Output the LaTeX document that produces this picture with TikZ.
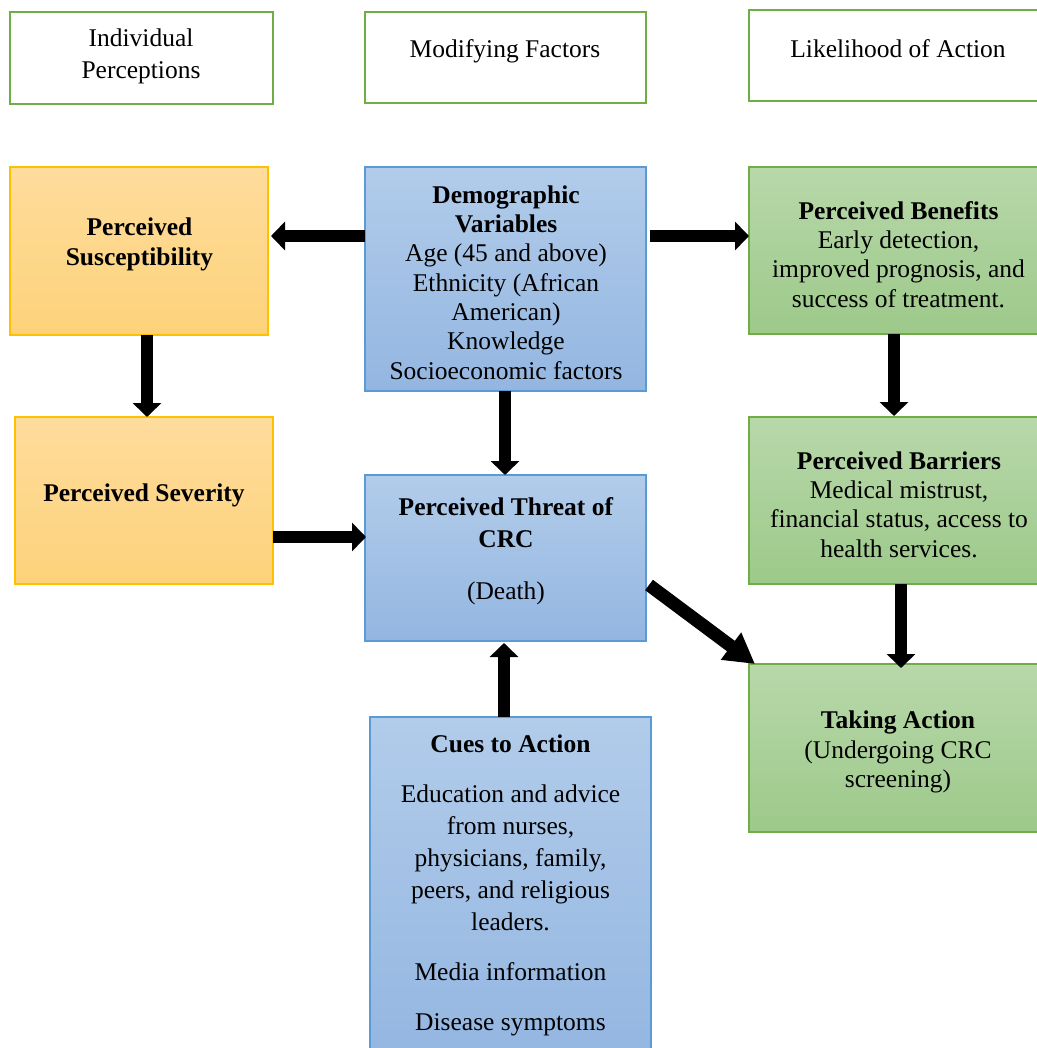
\documentclass[tikz,border=0pt]{standalone}
\usepackage{fontspec}
\setmainfont{Liberation Serif}
\usetikzlibrary{arrows.meta,calc}
\definecolor{orTop}{HTML}{FEDC9C}
\definecolor{orBot}{HTML}{FDD27A}
\definecolor{orLine}{HTML}{FFC000}
\definecolor{blTop}{HTML}{B2CCEA}
\definecolor{blBot}{HTML}{93B6E1}
\definecolor{blLine}{HTML}{5B9BD5}
\definecolor{grTop}{HTML}{B8D8AA}
\definecolor{grBot}{HTML}{9DC98A}
\definecolor{grLine}{HTML}{70AD47}
\tikzset{
 box/.style={draw, inner sep=0pt, outer sep=0pt, anchor=north west, line width=1.2pt},
 hdr/.style={box, draw=grLine, fill=white, line width=2.2pt},
 obox/.style={box, draw=orLine, top color=orTop, bottom color=orBot},
 bbox/.style={box, draw=blLine, top color=blTop, bottom color=blBot},
 gbox/.style={box, draw=grLine, top color=grTop, bottom color=grBot},
 txt/.style={align=center, inner sep=0pt, yshift=-2.5pt, font=\fontsize{25.5}{29.3}\selectfont},
 widetxt/.style={txt, font=\fontsize{25.5}{31.8}\selectfont},
 arr/.style={line width=12.5pt, -{Triangle[width=28pt,length=14pt]}},
 bigarr/.style={line width=13pt, -{Triangle[width=32pt,length=30pt]}},
}
\begin{document}
\begin{tikzpicture}[x=1pt,y=-1pt]
\useasboundingbox (0,0) rectangle (1036,1048);
\fill[white] (0,0) rectangle (1036,1048);
% header boxes
\node[hdr, minimum width=263pt, minimum height=92pt] (hIP) at (10,12) {};
\node[hdr, minimum width=281pt, minimum height=91pt] (hMF) at (365,12) {};
\node[hdr, minimum width=295pt, minimum height=91pt] (hLA) at (749,10) {};
\node[widetxt] (hIPt) at (141,54) {Individual\\Perceptions};
\node[txt] (hMFt) at (505,49) {Modifying Factors};
\node[txt] (hLAt) at (898,46) {Likelihood of Action};
% orange boxes
\node[obox, minimum width=258pt, minimum height=168pt] (sus) at (10,167) {};
\node[obox, minimum width=258pt, minimum height=167pt] (sev) at (15,417) {};
\node[txt] (sust) at (139.5,242) {\textbf{Perceived}\\\textbf{Susceptibility}};
\node[txt] (sevt) at (144,493) {\textbf{Perceived Severity}};
% blue boxes
\node[bbox, minimum width=281pt, minimum height=224pt] (demo) at (365,167) {};
\node[bbox, minimum width=281pt, minimum height=166pt] (threat) at (365,475) {};
\node[bbox, minimum width=281pt, minimum height=340pt] (cues) at (370,717) {};
\node[txt] (demot) at (506,280) {\textbf{Demographic}\\\textbf{Variables}\\Age (45 and above)\\Ethnicity (African\\American)\\Knowledge\\Socioeconomic factors};
\node[widetxt] (threatt) at (506,549) {\textbf{Perceived Threat of}\\\textbf{CRC}\\[20pt](Death)};
\node[widetxt] (cuest) at (510.5,883) {\textbf{Cues to Action}\\[18.5pt]Education and advice\\from nurses,\\physicians, family,\\peers, and religious\\leaders.\\[18.5pt]Media information\\[18.5pt]Disease symptoms};
% green boxes
\node[gbox, minimum width=295pt, minimum height=167pt] (ben) at (749,167) {};
\node[gbox, minimum width=295pt, minimum height=167pt] (bar) at (749,417) {};
\node[gbox, minimum width=295pt, minimum height=168pt] (act) at (749,664) {};
\node[txt] (bent) at (898.5,252) {\textbf{Perceived Benefits}\\Early detection,\\improved prognosis, and\\success of treatment.};
\node[txt] (bart) at (899,502) {\textbf{Perceived Barriers}\\Medical mistrust,\\financial status, access to\\health services.};
\node[txt] (actt) at (898,749.5) {\textbf{Taking Action}\\(Undergoing CRC\\screening)};
% arrows
\draw[arr] (demo.west |- 0,236) -- ([xshift=3pt]sus.east |- 0,236);
\draw[arr] ([xshift=4pt]demo.east |- 0,236) -- (ben.west |- 0,236);
\draw[arr] (sus.south -| 147,0) -- (sev.north -| 147,0);
\draw[arr] (demo.south -| 505,0) -- (threat.north -| 505,0);
\draw[arr] (sev.east |- 0,537) -- ([xshift=1pt]threat.west |- 0,537);
\draw[arr] (cues.north -| 504,0) -- ([yshift=-2pt]threat.south -| 504,0);
\draw[arr] (ben.south -| 894,0) -- ([yshift=1pt]bar.north -| 894,0);
\draw[arr] (bar.south -| 901,0) -- ([yshift=-4pt]act.north -| 901,0);
\draw[bigarr] ($(threat.north east)+(3,110)$) -- ($(act.north west)+(6,0)$);
\end{tikzpicture}
\end{document}
